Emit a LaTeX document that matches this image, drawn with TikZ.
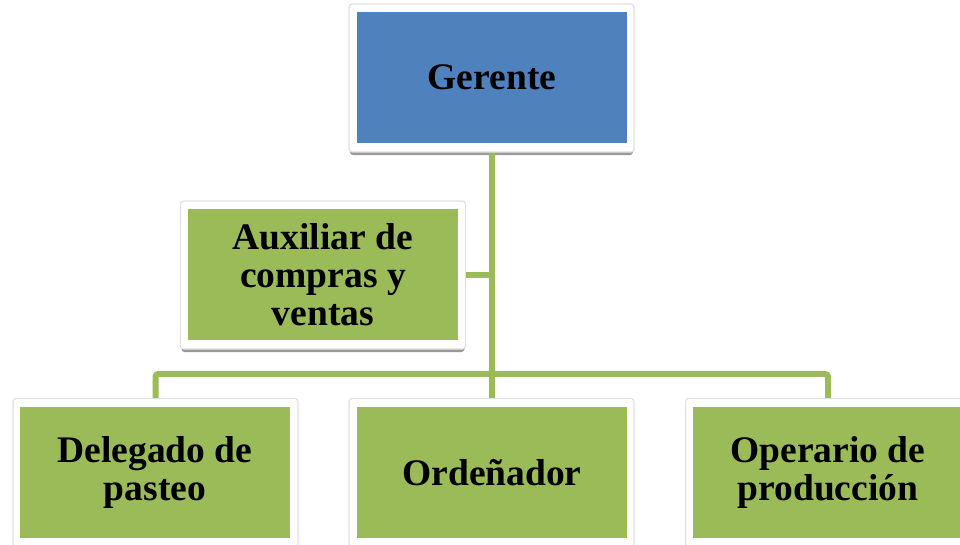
\documentclass[tikz,border=0pt]{standalone}
\usepackage{fontspec}
\setmainfont{Liberation Serif}
\definecolor{ogblue}{HTML}{4F81BD}
\definecolor{oggreen}{HTML}{9BBB59}
\tikzset{
  frame/.style={fill=white, draw=black!12, line width=1.2pt, rounded corners=3pt,
    minimum width=285pt, minimum height=148pt, inner sep=0pt},
  shadowbox/.style={fill=black!40, draw=none, rounded corners=3pt,
    minimum width=283pt, minimum height=148pt, inner sep=0pt},
  inner/.style={draw=none, minimum width=270pt, minimum height=131pt, inner sep=0pt,
    align=center, font=\fontsize{37.5}{38}\selectfont\bfseries},
  blueb/.style={inner, fill=ogblue},
  greenb/.style={inner, fill=oggreen},
  conn/.style={draw=oggreen, line width=6pt}
}
\begin{document}
\begin{tikzpicture}[x=1pt,y=-1pt]
\useasboundingbox (0,0) rectangle (960,544);
% shadows
\node[shadowbox] (gerS) at (491.5,81) {};
\node[shadowbox] (auxS) at (323,278) {};
\node[shadowbox] (delS) at (155.5,475.5) {};
\node[shadowbox] (ordS) at (491.5,475.5) {};
\node[shadowbox] (opS) at (828,475.5) {};
% frames
\node[frame] (gerF) at (491.5,78) {};
\node[frame] (auxF) at (323,275) {};
\node[frame] (delF) at (155.5,472.5) {};
\node[frame] (ordF) at (491.5,472.5) {};
\node[frame] (opF) at (828,472.5) {};
% connectors
\draw[conn] (gerF.south) -- (ordF.north);
\draw[conn] (auxF.east) -- (gerF.south |- auxF.east);
\draw[conn, rounded corners=3pt] (delF.north) -- ++(0,-24) coordinate (busL) -| (opF.north);
% inner boxes
\node[blueb] (ger) at (492,77.5) {Gerente};
\node[greenb] (aux) at (323,274.5) {Auxiliar de\\compras y\\ventas};
\node[greenb] (del) at (155,472.5) {Delegado de\\pasteo};
\node[greenb] (ord) at (492,472.5) {Ordeñador};
\node[greenb] (op) at (828,472.5) {Operario de\\producción};
\end{tikzpicture}
\end{document}
